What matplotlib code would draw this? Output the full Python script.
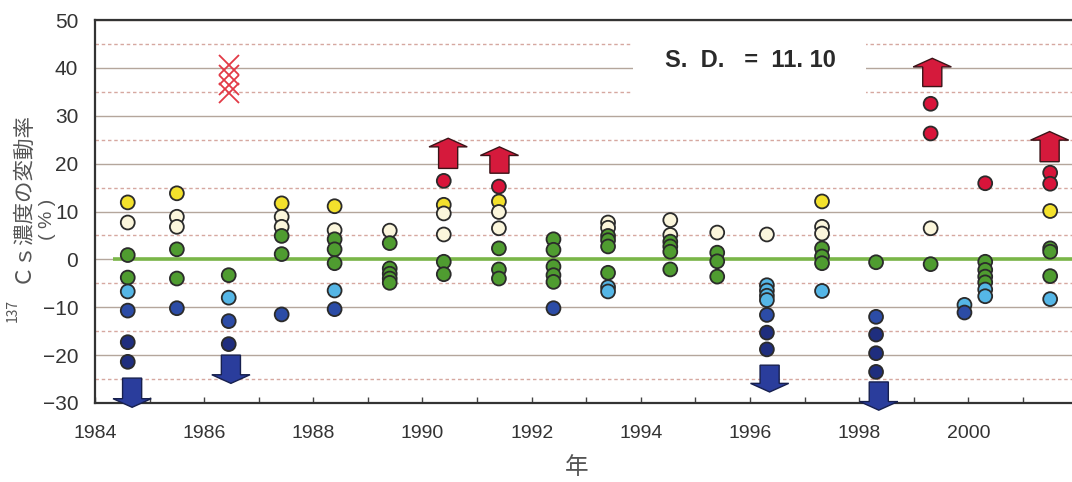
import matplotlib
matplotlib.use("Agg")
import matplotlib.pyplot as plt
import numpy as np
from matplotlib.patches import FancyArrow, Rectangle
from matplotlib.ticker import MultipleLocator

# annual variation of 137Cs concentration, one column of points per survey
col_x = [1984.6, 1985.5, 1986.45, 1987.42, 1988.39, 1989.4, 1990.39, 1991.4,
         1992.4, 1993.4, 1994.54, 1995.4, 1996.31, 1997.32, 1998.31, 1999.31,
         1999.93, 2000.31, 2001.5]
col_vals = [
    [11.9, 7.7, 0.9, -3.8, -6.7, -10.7, -17.3, -21.4],
    [13.8, 8.9, 6.8, 2.1, -4.0, -10.2],
    [-3.3, -8.0, -12.9, -17.7],
    [11.7, 8.9, 6.8, 4.9, 1.1, -11.5],
    [11.1, 6.1, 4.2, 2.1, -0.8, -6.5, -10.4],
    [6.0, 3.4, -1.9, -3.0, -4.0, -4.9],
    [16.4, 11.4, 9.6, 5.2, -0.5, -3.1],
    [15.2, 12.1, 9.9, 6.5, 2.3, -2.1, -4.0],
    [4.2, 2.0, -1.5, -3.3, -4.7, -10.2],
    [7.7, 6.6, 4.9, 4.0, 2.7, -2.8, -5.8, -6.7],
    [8.2, 5.1, 3.7, 2.7, 1.6, -2.1],
    [5.6, 1.4, -0.4, -3.6],
    [5.2, -5.4, -6.5, -7.6, -8.5, -11.6, -15.3, -18.8],
    [12.1, 6.8, 5.4, 2.3, 0.6, -0.8, -6.6],
    [-0.6, -12.0, -15.7, -19.6, -23.5],
    [32.5, 26.3, 6.5, -1.0],
    [-9.5, -11.1],
    [15.9, -0.5, -2.2, -3.6, -4.8, -6.3, -7.7],
    [18.1, 15.8, 10.1, 2.3, 1.6, -3.5, -8.3],
]

# off-scale values shown as arrows (x, tail, tip)
up_x = [1990.47, 1991.41, 1999.34, 2001.49]
up_tail = [19.0, 18.0, 36.1, 20.4]
up_tip = [25.3, 23.5, 42.0, 26.7]
down_x = [1984.68, 1986.49, 1996.36, 1998.36]
down_tail = [-24.8, -20.0, -22.1, -25.6]
down_tip = [-30.9, -25.9, -27.7, -31.5]

# excluded values (x marks)
x_year = 1986.45
x_vals = [40.6, 38.5, 36.4, 34.7]

sd_value = 11.10

bins = [15, 10, 5, -5, -10, -15]
bin_colors = ["#d8143a", "#f3e12c", "#fbf6dc", "#4f9c30", "#55b6e6",
              "#2c4ca6", "#1f2e7e"]

fig = plt.figure(figsize=(10.72, 4.82), dpi=100)
ax = fig.add_axes([95 / 1072, 79 / 482, (1072 - 95) / 1072, 383 / 482])

ax.set_xlim(1984, 2001.9)
ax.set_ylim(-30, 50)

ax.yaxis.set_major_locator(MultipleLocator(10))
ax.yaxis.set_minor_locator(MultipleLocator(5))
ax.grid(True, axis="y", which="major", color="#b4a69c", lw=1.0, zorder=1)
ax.grid(True, axis="y", which="minor", color="#d6a8a0", lw=1.0,
        ls=(0, (2.5, 2)), zorder=1)
ax.set_axisbelow(True)

years = np.arange(1984, 2002)
ax.set_xticks(years)
ax.set_xticklabels([str(y) if y % 2 == 0 else "" for y in years])
ax.tick_params(axis="x", direction="in", length=4, width=1, color="#444",
               labelsize=14, labelcolor="#333", pad=16)
ax.tick_params(axis="y", which="both", length=0, labelsize=15,
               labelcolor="#333", pad=12)
for lab in ax.get_xticklabels() + ax.get_yticklabels():
    lab.set_family("Liberation Sans")

for side in ("left", "bottom", "top"):
    ax.spines[side].set_color("#333")
    ax.spines[side].set_linewidth(1.6)
ax.spines["right"].set_visible(False)

# S.D. box
ax.add_patch(Rectangle((1993.85, 31.5), 4.27, 16.5, facecolor="white",
                       edgecolor="none", zorder=2))
ax.text(1996.0, 41.6, f"S. D.  =  {sd_value:.2f}".replace(".", ". "),
        ha="center", va="center", fontsize=17, fontweight="bold",
        family="Liberation Sans", color="#2a2a2a", zorder=3)

# zero line
ax.plot([1984.33, 2001.9], [0, 0], color="#7ab648", lw=2.6, zorder=3,
        solid_capstyle="butt")

# points coloured by class of variation
xs = np.concatenate([[x] * len(v) for x, v in zip(col_x, col_vals)])
vs = np.concatenate(col_vals)
conds = [vs >= bins[0], vs >= bins[1], vs >= bins[2], vs > bins[3],
         vs > bins[4], vs > bins[5]]
idx = np.select(conds, np.arange(6), default=6)
cols = [bin_colors[i] for i in idx]
ax.scatter(xs, vs, s=100, c=cols, edgecolors="#2b2b2b", linewidths=1.3,
           zorder=4)

ax.plot([x_year] * len(x_vals), x_vals, ls="none", marker="x", ms=14,
        mew=1.3, color="#e23a46", zorder=4)

for x, t0, t1 in zip(up_x, up_tail, up_tip):
    ax.add_patch(FancyArrow(x, t0, 0, t1 - t0, width=0.35, head_width=0.7,
                            head_length=1.8, length_includes_head=True,
                            facecolor="#d51a3c", edgecolor="#3b1418", lw=1.0,
                            zorder=5, clip_on=False))
for x, t0, t1 in zip(down_x, down_tail, down_tip):
    ax.add_patch(FancyArrow(x, t0, 0, t1 - t0, width=0.35, head_width=0.7,
                            head_length=1.8, length_includes_head=True,
                            facecolor="#2a3d9c", edgecolor="#17204e", lw=1.0,
                            zorder=5, clip_on=False))

# axis labels
cjk = ["Noto Sans CJK JP", "DejaVu Sans"]
fig.text(21 / 1072, 1 - 197 / 482, "Ｃｓ濃度の変動率", rotation=90,
         ha="center", va="center", fontsize=15.5, color="#555", family=cjk)
fig.text(13 / 1072, 1 - 310 / 482, "137", rotation=90, ha="center",
         va="center", fontsize=10, color="#555", family=cjk)
fig.text(47 / 1072, 1 - 219 / 482, "( % )", rotation=90, ha="center",
         va="center", fontsize=14, color="#555", family="Liberation Sans")
fig.text(577 / 1072, 1 - 467 / 482, "年", ha="center", va="center",
         fontsize=17, color="#555", family=cjk)

fig.savefig("out.png", dpi=100)
